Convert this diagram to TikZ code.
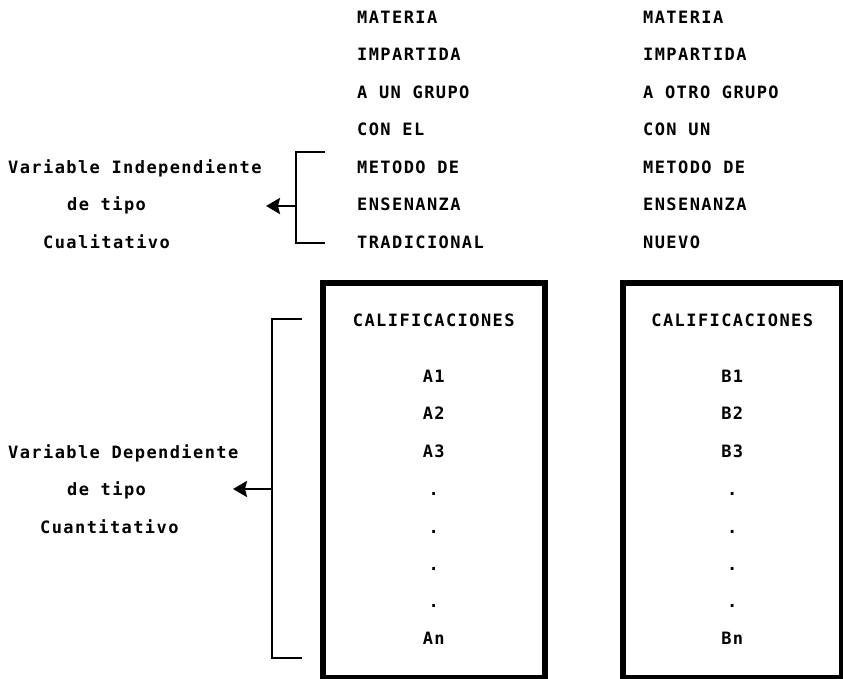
\documentclass[tikz,border=0pt]{standalone}
\usepackage{fontspec}
\setmonofont{DejaVu Sans Mono}[LetterSpace=8.3]
\usetikzlibrary{arrows.meta}
\begin{document}
\begin{tikzpicture}[x=1pt,y=-1pt,
  txt/.style={font=\ttfamily\bfseries\fontsize{17}{17}\selectfont,
              inner sep=0pt, text height=12.4pt, text depth=0pt},
  lft/.style={txt, anchor=west},
  ctr/.style={txt, anchor=center},
  brk/.style={line width=2.2pt, line join=miter},
  arr/.style={line width=2.4pt, -{Stealth[length=14pt,width=16pt,inset=2pt]}},
  gradebox/.style={draw, line width=5.5pt, inner sep=0pt, anchor=north west}]
\useasboundingbox (0,0) rectangle (843,679);

% ---- column headings (two groups) ----
\node[lft] (a1) at (357,17)    {MATERIA};
\node[lft] (a2) at (357,54.5)  {IMPARTIDA};
\node[lft] (a3) at (357,92)    {A UN GRUPO};
\node[lft] (a4) at (357,129.5) {CON EL};
\node[lft] (a5) at (357,167)   {METODO DE};
\node[lft] (a6) at (357,204.5) {ENSENANZA};
\node[lft] (a7) at (357,242)   {TRADICIONAL};

\node[lft] (b1) at (643,17)    {MATERIA};
\node[lft] (b2) at (643,54.5)  {IMPARTIDA};
\node[lft] (b3) at (643,92)    {A OTRO GRUPO};
\node[lft] (b4) at (643,129.5) {CON UN};
\node[lft] (b5) at (643,167)   {METODO DE};
\node[lft] (b6) at (643,204.5) {ENSENANZA};
\node[lft] (b7) at (643,242)   {NUEVO};

% ---- independent variable label ----
\node[lft] (vi1) at (8,167)    {Variable Independiente};
\node[lft] (vi2) at (67,204.5) {de tipo};
\node[lft] (vi3) at (43,242)   {Cualitativo};

\coordinate (tTop) at (325,152);
\coordinate (tBot) at (325,243);
\coordinate (tMid) at (296,206);
\coordinate (tTip) at (266,206);
\draw[brk] (tTop) -- (296,152) -- (296,243) -- (tBot);
\draw[arr] (tMid) -- (tTip);

% ---- score boxes ----
\node[gradebox, minimum width=222pt, minimum height=395pt] (boxA) at (320,280) {};
\node[gradebox, minimum width=219pt, minimum height=395pt] (boxB) at (620,280) {};

\node[ctr] (ca) at (boxA.north |- 0,320) {CALIFICACIONES};
\node[ctr] (sa1) at (boxA.north |- 0,376) {A1};
\node[ctr] (sa2) at (boxA.north |- 0,413) {A2};
\node[ctr] (sa3) at (boxA.north |- 0,451) {A3};
\node[ctr] (da1) at (boxA.north |- 0,489) {.};
\node[ctr] (da2) at (boxA.north |- 0,527) {.};
\node[ctr] (da3) at (boxA.north |- 0,564) {.};
\node[ctr] (da4) at (boxA.north |- 0,601) {.};
\node[ctr] (san) at (boxA.north |- 0,638) {An};

\node[ctr] (cb) at (boxB.north |- 0,320) {CALIFICACIONES};
\node[ctr] (sb1) at (boxB.north |- 0,376) {B1};
\node[ctr] (sb2) at (boxB.north |- 0,413) {B2};
\node[ctr] (sb3) at (boxB.north |- 0,451) {B3};
\node[ctr] (db1) at (boxB.north |- 0,489) {.};
\node[ctr] (db2) at (boxB.north |- 0,527) {.};
\node[ctr] (db3) at (boxB.north |- 0,564) {.};
\node[ctr] (db4) at (boxB.north |- 0,601) {.};
\node[ctr] (sbn) at (boxB.north |- 0,638) {Bn};

% ---- dependent variable label ----
\node[lft] (vd1) at (8,452)  {Variable Dependiente};
\node[lft] (vd2) at (67,489) {de tipo};
\node[lft] (vd3) at (40,527) {Cuantitativo};

\coordinate (bTop) at (302,319);
\coordinate (bBot) at (302,658);
\coordinate (bMid) at (272,489);
\coordinate (bTip) at (233,489);
\draw[brk] (bTop) -- (272,319) -- (272,658) -- (bBot);
\draw[arr] (bMid) -- (bTip);
\end{tikzpicture}
\end{document}
